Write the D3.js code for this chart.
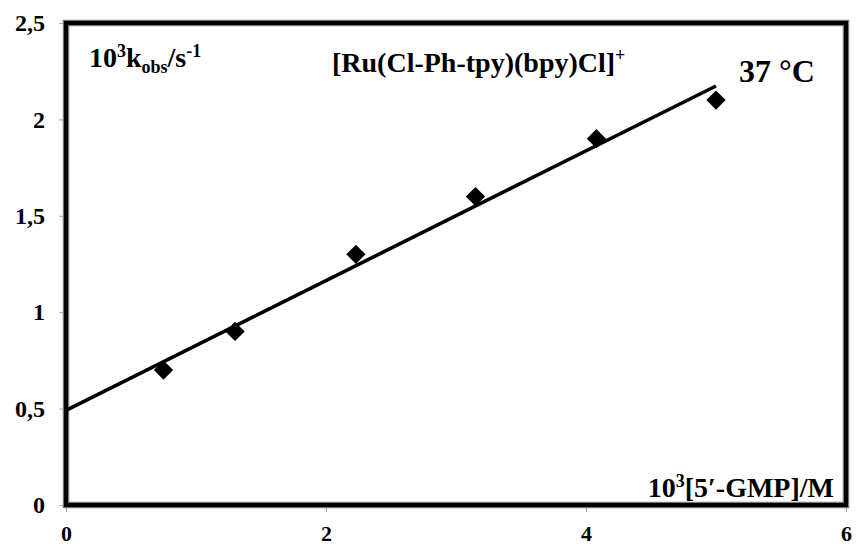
<!DOCTYPE html>
<html>
<head>
<meta charset="utf-8">
<script src="https://cdn.jsdelivr.net/npm/d3@7"></script>
<style>
  html, body { margin: 0; padding: 0; background: #fff; }
  svg { display: block; }
  text { font-family: "Liberation Serif", "Times New Roman", serif; font-weight: bold; fill: #000; }
</style>
</head>
<body>
<svg id="chart" width="857" height="548"></svg>
<script>
// Observed rate constants vs. 5'-GMP concentration at 37 °C
const gmpConc = [0.75, 1.30, 2.23, 3.15, 4.08, 5.00];   // 10^3 [5'-GMP] / M
const kObs    = [0.70, 0.90, 1.30, 1.60, 1.90, 2.10];   // 10^3 k_obs / s^-1
const xTicks  = [0, 2, 4, 6];
const yTicks  = [0, 0.5, 1, 1.5, 2, 2.5];

const W = 857, H = 548;
const margin = { left: 66, top: 23, right: W - 846, bottom: H - 505 };
const svg = d3.select("#chart");

const x = d3.scaleLinear().domain([0, 6]).range([margin.left, W - margin.right]);
const y = d3.scaleLinear().domain([0, 2.5]).range([H - margin.bottom, margin.top]);

// decimal comma formatting
const locale = d3.formatLocale({ decimal: ",", thousands: ".", grouping: [3], currency: ["", ""] });
const fmt = locale.format("~g");

// least-squares straight line through the points
const n = gmpConc.length;
const mx = d3.mean(gmpConc), my = d3.mean(kObs);
let sxy = 0, sxx = 0;
for (let i = 0; i < n; i++) {
  sxy += (gmpConc[i] - mx) * (kObs[i] - my);
  sxx += (gmpConc[i] - mx) ** 2;
}
const slope = sxy / sxx;
const intercept = my - slope * mx;
const fitX = [0, d3.max(gmpConc)];

// axes
const yAxis = svg.append("g")
  .attr("transform", `translate(${margin.left},0)`)
  .call(d3.axisLeft(y).tickValues(yTicks).tickFormat(fmt).tickSize(7).tickPadding(14));
const xAxis = svg.append("g")
  .attr("transform", `translate(0,${H - margin.bottom})`)
  .call(d3.axisBottom(x).tickValues(xTicks).tickFormat(d3.format("d")).tickSize(7).tickPadding(13));

[xAxis, yAxis].forEach(g => {
  g.select(".domain").remove();
  g.selectAll(".tick line").attr("stroke", "#aaa").attr("stroke-width", 1);
  g.selectAll(".tick text").style("font-family", "'Liberation Serif', serif").style("font-weight", "bold").attr("fill", "#000");
});
yAxis.selectAll(".tick text").style("font-size", "24px");
xAxis.selectAll(".tick text").style("font-size", "22px");

// plot frame
const frame = { x: x(0), y: y(2.5), w: x(6) - x(0), h: y(0) - y(2.5) };
svg.append("rect")
  .attr("x", frame.x).attr("y", frame.y).attr("width", frame.w).attr("height", frame.h)
  .attr("fill", "none").attr("stroke", "#777").attr("stroke-width", 6.5);
svg.append("rect")
  .attr("x", frame.x).attr("y", frame.y).attr("width", frame.w).attr("height", frame.h)
  .attr("fill", "none").attr("stroke", "#000").attr("stroke-width", 4);

// fitted line
svg.append("path")
  .datum(fitX)
  .attr("fill", "none")
  .attr("stroke", "#000")
  .attr("stroke-width", 3.6)
  .attr("d", d3.line().x(d => x(d)).y(d => y(intercept + slope * d)));

// data markers (diamonds)
const diamond = d3.symbol().type(d3.symbolSquare).size(185);
svg.append("g").selectAll("path")
  .data(d3.zip(gmpConc, kObs))
  .join("path")
  .attr("d", diamond)
  .attr("fill", "#000")
  .attr("transform", d => `translate(${x(d[0])},${y(d[1])}) rotate(45)`);

// y quantity label
const yl = svg.append("text").attr("x", 89).attr("y", 67).style("font-size", "28px");
yl.append("tspan").text("10");
yl.append("tspan").attr("dy", -10).style("font-size", "18px").text("3");
yl.append("tspan").attr("dy", 10).text("k");
yl.append("tspan").attr("dy", 6).style("font-size", "18px").text("obs");
yl.append("tspan").attr("dy", -6).text("/s");
yl.append("tspan").attr("dy", -10).style("font-size", "18px").text("-1");

// complex name
const tl = svg.append("text").attr("x", 332).attr("y", 72).style("font-size", "28px");
tl.append("tspan").text("[Ru(Cl-Ph-tpy)(bpy)Cl]");
tl.append("tspan").attr("dy", -11).style("font-size", "18px").text("+");

// temperature
svg.append("text").attr("x", 739).attr("y", 82).style("font-size", "32px").text("37 °C");

// x quantity label
const xl = svg.append("text").attr("x", 834).attr("y", 497).attr("text-anchor", "end").style("font-size", "28px");
xl.append("tspan").text("10");
xl.append("tspan").attr("dy", -10).style("font-size", "18px").text("3");
xl.append("tspan").attr("dy", 10).text("[5′-GMP]/M");
</script>
</body>
</html>
